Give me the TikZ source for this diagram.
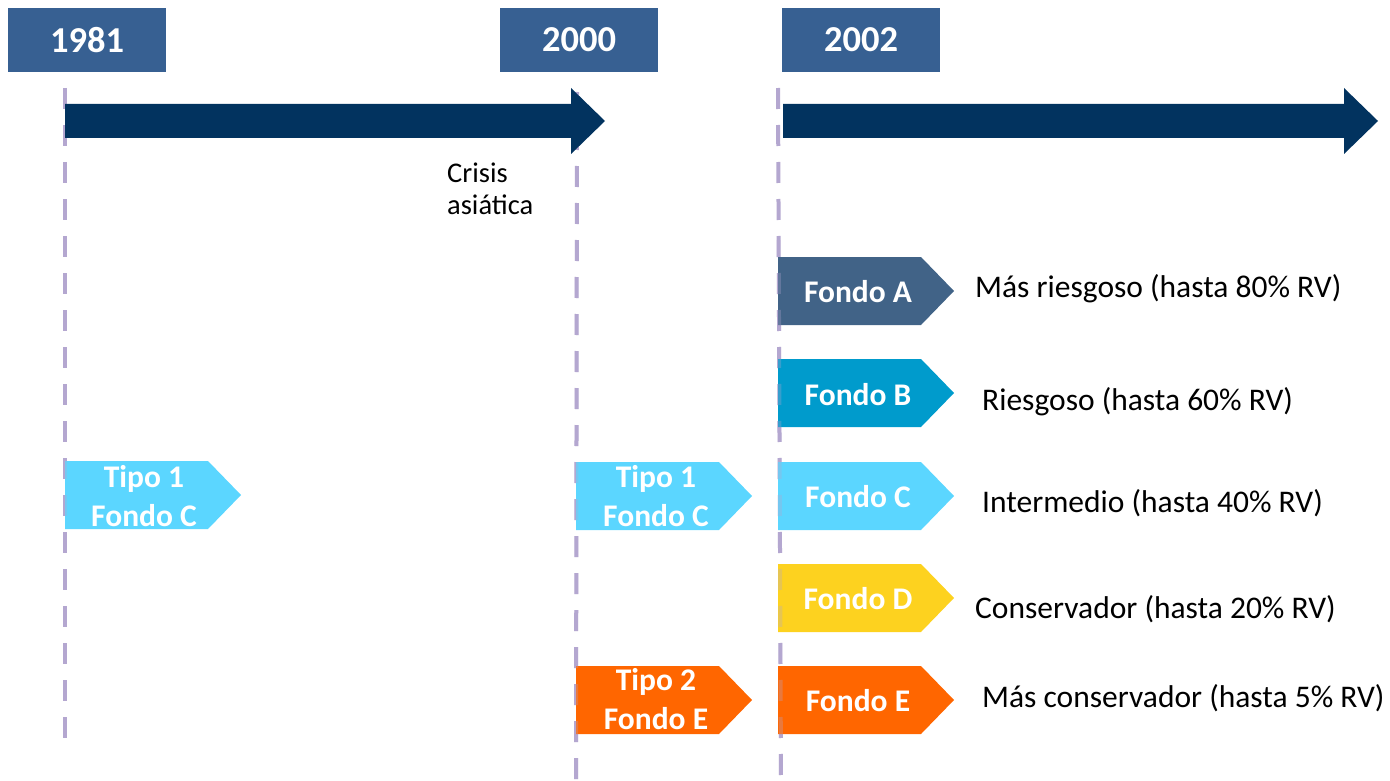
\documentclass[tikz,border=0pt]{standalone}
\usepackage{fontspec}
\setmainfont{Carlito}
\definecolor{yearblue}{HTML}{376092}
\definecolor{navy}{HTML}{02335F}
\definecolor{lav}{HTML}{B4A7D0}
\definecolor{fa}{HTML}{416387}
\definecolor{fb}{HTML}{009BCC}
\definecolor{fc}{HTML}{5BD6FF}
\definecolor{fd}{HTML}{FDD21F}
\definecolor{fe}{HTML}{FF6600}
\newcommand\hplate[3]{% left x, top y, colour
  \fill[#3] (#1,#2) -- ++(143,0) -- ++(33,34) -- ++(-33,34) -- ++(-143,0) -- cycle;
}
\begin{document}
\begin{tikzpicture}[x=1pt,y=-1pt,
  yearbox/.style={fill=yearblue, text=white, minimum width=158pt, minimum height=64pt, inner sep=0pt,
    font=\fontsize{36.5}{40}\selectfont\bfseries},
  platetxt/.style={text=white, inner sep=0pt, anchor=base, align=center,
    font=\fontsize{31.5}{39}\selectfont\bfseries},
  desc/.style={inner sep=0pt, anchor=base west, font=\fontsize{31.5}{38}\selectfont},
  crisis/.style={inner sep=0pt, anchor=base west, align=left, font=\fontsize{28.5}{32}\selectfont},
  vline/.style={draw=lav, line width=4pt, dash pattern=on 21pt off 16pt},
  bigarrow/.style={fill=navy}]
\useasboundingbox (0,0) rectangle (1390,781);
% dashed vertical lines
\coordinate (l1t) at (65,88);  \coordinate (l1b) at (65,745);
\coordinate (l2t) at (577,92); \coordinate (l2b) at (576,781);
\coordinate (l3t) at (778,88); \coordinate (l3b) at (781,781);
\draw[vline] (l1t) -- (l1b);
\draw[vline] (l2t) -- (l2b);
\draw[vline] (l3t) -- (l3b);
% year boxes
\node[yearbox] (y1981) at (87,40) {1981};
\node[yearbox] (y2000) at (579,40) {2000};
\node[yearbox] (y2002) at (861,40) {2002};
% timeline arrows
\fill[bigarrow] (65,104) -- (571,104) -- (571,88) -- (605,121) -- (571,154) -- (571,138) -- (65,138) -- cycle;
\fill[bigarrow] (783,104) -- (1344,104) -- (1344,88) -- (1378,121) -- (1344,154) -- (1344,138) -- (783,138) -- cycle;
% crisis label
\node[crisis] (crisis) at (447,214) {Crisis\\asiática};
% plates
\hplate{65}{461}{fc}
\hplate{576}{462}{fc}
\hplate{576}{666}{fe}
\hplate{778}{257}{fa}
\hplate{778}{359}{fb}
\hplate{778}{462}{fc}
\hplate{778}{564}{fd}
\hplate{778}{666}{fe}
% faint dashed lines showing over the plates
\begin{scope}[opacity=0.3]
\clip (0,240) rectangle (1390,781);
\draw[vline] (l1t) -- (l1b);
\draw[vline] (l2t) -- (l2b);
\draw[vline] (l3t) -- (l3b);
\end{scope}
% plate texts
\node[platetxt] (t81) at (144,526) {Tipo 1\\Fondo C};
\node[platetxt] (t00a) at (656,526) {Tipo 1\\Fondo C};
\node[platetxt] (t00b) at (656,729) {Tipo 2\\Fondo E};
\node[platetxt] (fA) at (858,302) {Fondo A};
\node[platetxt] (fB) at (858,405) {Fondo B};
\node[platetxt] (fC) at (858,507) {Fondo C};
\node[platetxt] (fD) at (858,609) {Fondo D};
\node[platetxt] (fE) at (858,711) {Fondo E};
% descriptions
\node[desc] (dA) at (975,297) {Más riesgoso (hasta 80\% RV)};
\node[desc] (dB) at (982,410) {Riesgoso (hasta 60\% RV)};
\node[desc] (dC) at (982,512) {Intermedio (hasta 40\% RV)};
\node[desc] (dD) at (975,618) {Conservador (hasta 20\% RV)};
\node[desc] (dE) at (982,707) {Más conservador (hasta 5\% RV)};
\end{tikzpicture}
\end{document}
